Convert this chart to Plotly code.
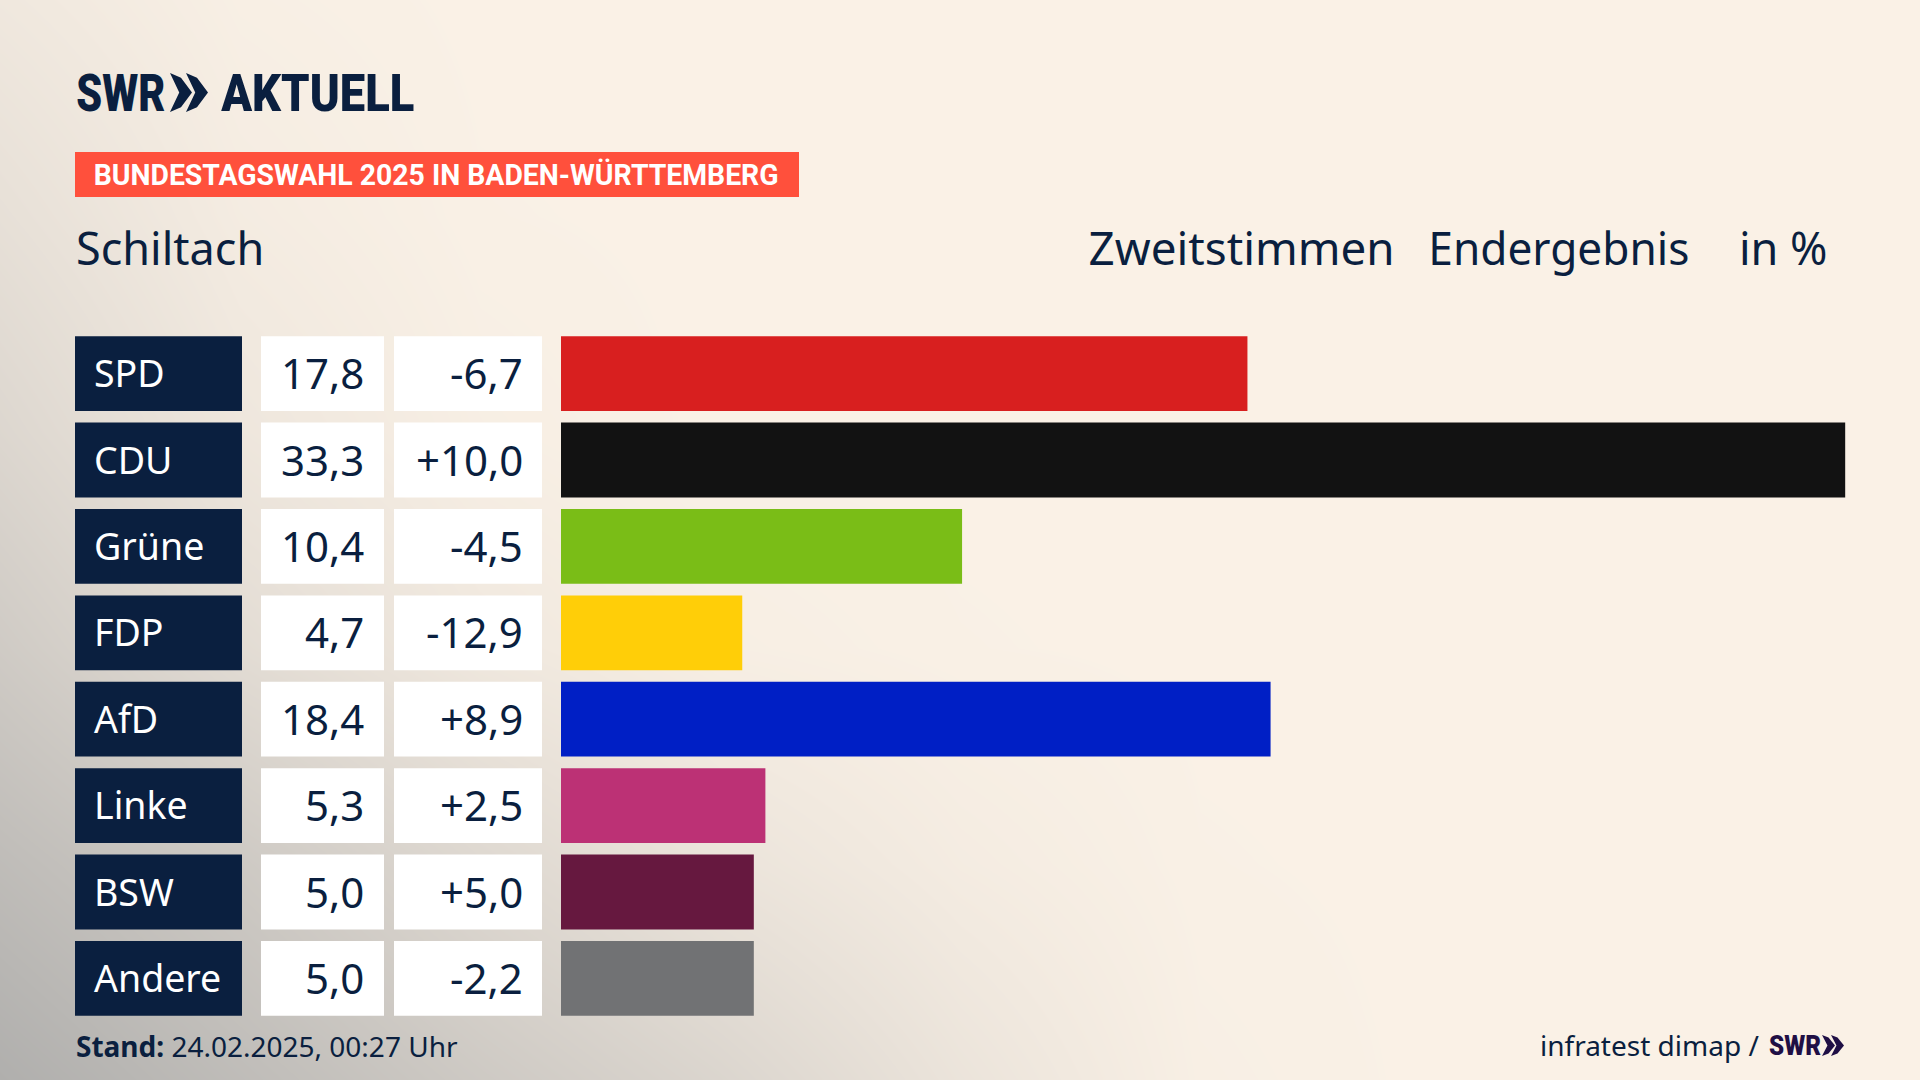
import json

import plotly.graph_objects as go

PARTIES = ["SPD", "CDU", "Grüne", "FDP", "AfD", "Linke", "BSW", "Andere"]
RESULTS = [17.8, 33.3, 10.4, 4.7, 18.4, 5.3, 5.0, 5.0]
RESULT_LABELS = ["17,8", "33,3", "10,4", "4,7", "18,4", "5,3", "5,0", "5,0"]
CHANGE_LABELS = ["-6,7", "+10,0", "-4,5", "-12,9", "+8,9", "+2,5", "+5,0", "-2,2"]
BAR_COLORS = ["#D81F1F", "#121212", "#7ABD17", "#FFCE08", "#001FC5", "#BC3175", "#66183F", "#717274"]
CELL_FILL = [1] * len(PARTIES)

# how far the grey corner reaches into the cream
SHADE_X = [0, 240, 480, 720, 960, 1200, 1440, 1680, 1920]
SHADE_Y = [0, 216, 432, 648, 864, 1080]
SHADE = [
    [0.14, 0.03, 0.00, 0.00, 0.00, 0.00, 0.00, 0.00, 0.00],
    [0.26, 0.08, 0.01, 0.00, 0.00, 0.00, 0.00, 0.00, 0.00],
    [0.40, 0.16, 0.04, 0.00, 0.00, 0.00, 0.00, 0.00, 0.00],
    [0.58, 0.32, 0.14, 0.04, 0.01, 0.00, 0.00, 0.00, 0.00],
    [0.80, 0.60, 0.38, 0.20, 0.08, 0.01, 0.00, 0.00, 0.00],
    [1.00, 0.80, 0.60, 0.42, 0.20, 0.03, 0.00, 0.00, 0.00],
]

WIDTH = 1920
HEIGHT = 1080
NAVY = "#0A1F3F"
PURPLE = "#1F0F45"
FONT = "Noto Sans"
LOGO_FONT = "Roboto"

# the original type is narrower, no condensed font here: squeeze to these widths
FIT_WIDTHS = {
    "SWR|52px": 89,
    "AKTUELL|52px": 193,
    "SWR|27px": 52,
    "BUNDESTAGSWAHL 2025 IN BADEN-WÜRTTEMBERG|29px": 685,
    "Zweitstimmen|45px": 306,
    "Endergebnis|45px": 261,
}


def px(x):
    return x / WIDTH


def py(y):
    return 1 - y / HEIGHT


def chevrons(x0, y0, y1, w, gap):
    """Path for the two SWR arrows, in pixels of the page."""
    mid = (y0 + y1) / 2
    path = ""
    for i in range(2):
        left = x0 + i * gap
        path += (
            f"M{px(left)},{py(y0)} L{px(left + w * 0.5)},{py(y0 + (y1 - y0) * 0.12)} "
            f"L{px(left + w)},{py(mid)} L{px(left + w * 0.5)},{py(y1 - (y1 - y0) * 0.12)} "
            f"L{px(left)},{py(y1)} L{px(left + w * 0.42)},{py(mid)} Z "
        )
    return path


def text(fig, x, y, label, size, color=NAVY, anchor="left", family=FONT, weight=400):
    fig.add_annotation(
        x=px(x), y=py(y), xref="paper", yref="paper", text=label, showarrow=False,
        xanchor=anchor, yanchor="middle",
        font=dict(family=family, size=size, color=color, weight=weight),
    )


def cell_text(fig, x, labels, color, anchor, size):
    for party, label in zip(PARTIES, labels):
        fig.add_annotation(
            x=px(x), y=party, xref="paper", yref="y2", text=label, showarrow=False,
            xanchor=anchor, yanchor="middle", yshift=1,
            font=dict(family=FONT, size=size, color=color),
        )


fig = go.Figure()

# background
fig.add_trace(go.Heatmap(
    x=SHADE_X, y=SHADE_Y, z=SHADE, zsmooth="best", showscale=False, hoverinfo="skip",
    zmin=0, zmax=1, colorscale=[[0, "#FAF1E6"], [1, "#B0AFAD"]], xaxis="x", yaxis="y",
))

# result bars
fig.add_trace(go.Bar(
    y=PARTIES, x=RESULTS, orientation="h", marker=dict(color=BAR_COLORS, line_width=0),
    xaxis="x2", yaxis="y2", hoverinfo="skip",
))

# table cells left of the bars
for axis, color in (("x3", NAVY), ("x4", "#FFFFFF"), ("x5", "#FFFFFF")):
    fig.add_trace(go.Bar(
        y=PARTIES, x=CELL_FILL, orientation="h", marker=dict(color=color, line_width=0),
        xaxis=axis, yaxis="y2", hoverinfo="skip",
    ))

hidden = dict(visible=False, showgrid=False, zeroline=False, fixedrange=True)

fig.update_layout(
    width=WIDTH,
    height=HEIGHT,
    margin=dict(l=0, r=0, t=0, b=0),
    showlegend=False,
    bargap=0.134,
    paper_bgcolor="#FAF1E6",
    plot_bgcolor="rgba(0,0,0,0)",
    xaxis=dict(hidden, domain=[0, 1], range=[0, 1920]),
    yaxis=dict(hidden, domain=[0, 1], range=[1080, 0]),
    xaxis2=dict(hidden, domain=[px(561), 1], range=[0, 35.24], anchor="y2"),
    yaxis2=dict(hidden, domain=[py(1021.6), py(330.4)], autorange="reversed", anchor="x2",
                type="category"),
    xaxis3=dict(hidden, domain=[px(75), px(242)], range=[0, 1], anchor="y2"),
    xaxis4=dict(hidden, domain=[px(261), px(384)], range=[0, 1], anchor="y2"),
    xaxis5=dict(hidden, domain=[px(394), px(542)], range=[0, 1], anchor="y2"),
)

# banner and logos
fig.add_shape(type="rect", xref="paper", yref="paper", x0=px(75), x1=px(799), y0=py(152), y1=py(197),
              fillcolor="#FF503C", line_width=0)
fig.add_shape(type="path", xref="paper", yref="paper", path=chevrons(170, 73, 112, 22, 16),
              fillcolor=NAVY, line_width=0)
fig.add_shape(type="path", xref="paper", yref="paper", path=chevrons(1822, 1035, 1056, 13, 9),
              fillcolor=PURPLE, line_width=0)

text(fig, 121, 93, "SWR", 52, anchor="center", family=LOGO_FONT, weight=900)
text(fig, 317, 93, "AKTUELL", 52, anchor="center", family=LOGO_FONT, weight=900)
text(fig, 436, 175, "BUNDESTAGSWAHL 2025 IN BADEN-WÜRTTEMBERG", 29, "#FFFFFF", anchor="center",
     family=LOGO_FONT, weight=700)

text(fig, 74, 247, "Schiltach", 45)
text(fig, 1241, 247, "Zweitstimmen", 45, anchor="center")
text(fig, 1559, 247, "Endergebnis", 45, anchor="center")
text(fig, 1737, 247, "in %", 45)

cell_text(fig, 92, PARTIES, "#FFFFFF", "left", 37.5)
cell_text(fig, 366, RESULT_LABELS, NAVY, "right", 42)
cell_text(fig, 524.5, CHANGE_LABELS, NAVY, "right", 42)

text(fig, 74, 1046, "<b>Stand:</b> 24.02.2025, 00:27 Uhr", 28)
text(fig, 1761, 1045, "infratest dimap /", 28, anchor="right")
text(fig, 1795, 1046, "SWR", 27, PURPLE, anchor="center", family=LOGO_FONT, weight=900)

squeeze = """
var fit = %s;
document.querySelectorAll('.annotation-text').forEach(function (t) {
    var w = fit[t.textContent + '|' + t.style.fontSize];
    if (w) {
        t.setAttribute('textLength', w);
        t.setAttribute('lengthAdjust', 'spacingAndGlyphs');
    }
});
document.body.style.margin = '0';
""" % json.dumps(FIT_WIDTHS, ensure_ascii=False)

fig.write_html("out.html", config={"displayModeBar": False}, post_script=squeeze)
